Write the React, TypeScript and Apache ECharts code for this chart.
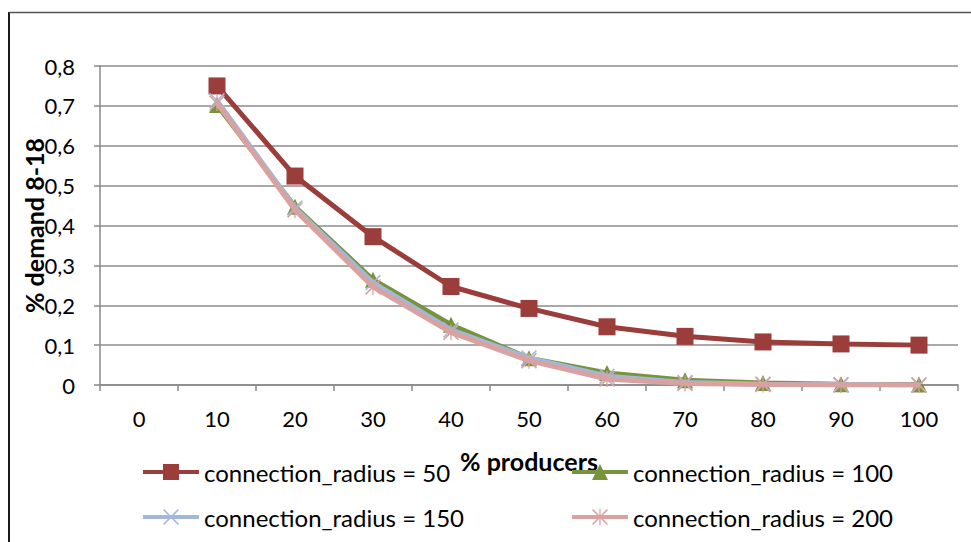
import React, { useEffect, useRef } from "react";
import * as echarts from "echarts";

const categories = ["0", "10", "20", "30", "40", "50", "60", "70", "80", "90", "100"];
const seriesNames = [
  "connection_radius = 50",
  "connection_radius = 100",
  "connection_radius = 150",
  "connection_radius = 200",
];
const r50 = [null, 0.75, 0.524, 0.372, 0.247, 0.192, 0.146, 0.122, 0.108, 0.103, 0.1];
const r100 = [null, 0.702, 0.447, 0.264, 0.151, 0.067, 0.03, 0.012, 0.005, 0.002, 0.001];
const r150 = [null, 0.713, 0.444, 0.257, 0.138, 0.068, 0.022, 0.006, 0.002, 0.001, 0];
const r200 = [null, 0.707, 0.439, 0.246, 0.132, 0.061, 0.015, 0.004, 0.001, 0, 0];
const yTicks = { min: 0, max: 0.8, interval: 0.1 };

const FONT = "Lato";
const colors = ["#9B3D3A", "#77933C", "#A3B7D9", "#D9A2A0"];

const X_PATH =
  "path://M0,7 L7,0 L50,43 L93,0 L100,7 L57,50 L100,93 L93,100 L50,57 L7,100 L0,93 L43,50 Z";
const STAR_PATH =
  "path://M0,7 L7,0 L50,43 L93,0 L100,7 L57,50 L100,93 L93,100 L50,57 L7,100 L0,93 L43,50 Z M46,0 L54,0 L54,100 L46,100 Z";

export default function App() {
  const ref = useRef<HTMLDivElement>(null);
  useEffect(() => {
    if (!ref.current) return;
    const chart = echarts.init(ref.current, undefined, { renderer: "svg" });
    const symbols = ["rect", "triangle", X_PATH, STAR_PATH];
    const sizes = [17, 16, 16, 16];
    const datas = [r50, r100, r150, r200];
    const legendBase = {
      orient: "vertical",
      top: 460,
      padding: 0,
      itemWidth: 56,
      itemHeight: 20,
      itemGap: 21,
      textStyle: { fontFamily: FONT, fontSize: 24, color: "#000", lineHeight: 20 },
      lineStyle: { width: 4 },
      selectedMode: false,
    };
    chart.setOption({
      animation: false,
      backgroundColor: "#ffffff",
      textStyle: { fontFamily: FONT },
      graphic: [
        { type: "line", shape: { x1: 9, y1: 12, x2: 9, y2: 542 }, style: { stroke: "#1a1a1a", lineWidth: 2 } },
        { type: "line", shape: { x1: 9, y1: 12.5, x2: 971, y2: 12.5 }, style: { stroke: "#555555", lineWidth: 1.5 } },
      ],
      grid: { left: 100, right: 13, top: 66, bottom: 157, containLabel: false },
      xAxis: {
        type: "category",
        data: categories,
        boundaryGap: true,
        name: "% producers",
        nameLocation: "middle",
        nameGap: 63,
        nameMoveOverlap: false,
        nameTextStyle: { fontFamily: FONT, fontSize: 25, fontWeight: "bold", color: "#000" },
        axisLine: { show: true, lineStyle: { color: "#888888", width: 1.5 } },
        axisTick: { show: true, length: 6, alignWithLabel: false, lineStyle: { color: "#888888", width: 1.5 } },
        axisLabel: { fontFamily: FONT, fontSize: 22, color: "#000", margin: 22, interval: 0 },
        splitLine: { show: false },
      },
      yAxis: {
        type: "value",
        min: yTicks.min,
        max: yTicks.max,
        interval: yTicks.interval,
        name: "% demand 8-18",
        nameLocation: "middle",
        nameGap: 54,
        nameMoveOverlap: false,
        nameRotate: 90,
        nameTextStyle: { fontFamily: FONT, fontSize: 25, fontWeight: "bold", color: "#000" },
        axisLine: { show: true, lineStyle: { color: "#888888", width: 1.5 } },
        axisTick: { show: true, length: 6, inside: false, lineStyle: { color: "#888888", width: 1.5 } },
        axisLabel: {
          fontFamily: FONT,
          fontSize: 22,
          color: "#000",
          margin: 25,
          formatter: (v: number) => (v === 0 ? "0" : v.toFixed(1).replace(".", ",")),
        },
        splitLine: { show: true, lineStyle: { color: "#8c8c8c", width: 1.5 } },
      },
      legend: [
        { ...legendBase, data: [seriesNames[0], seriesNames[2]], left: 141 },
        { ...legendBase, data: [seriesNames[1], seriesNames[3]], left: 570 },
      ],
      series: seriesNames.map((name, i) => ({
        name,
        type: "line",
        data: datas[i],
        symbol: symbols[i],
        symbolSize: sizes[i],
        showSymbol: true,
        connectNulls: false,
        itemStyle: { color: colors[i] },
        lineStyle: { color: colors[i], width: 5 },
        emphasis: { disabled: true },
        z: 2 + i,
      })),
    });
    return () => chart.dispose();
  }, []);
  return (
    <div
      ref={ref}
      style={{ position: "fixed", left: 0, top: 0, width: 971, height: 542 }}
    />
  );
}
